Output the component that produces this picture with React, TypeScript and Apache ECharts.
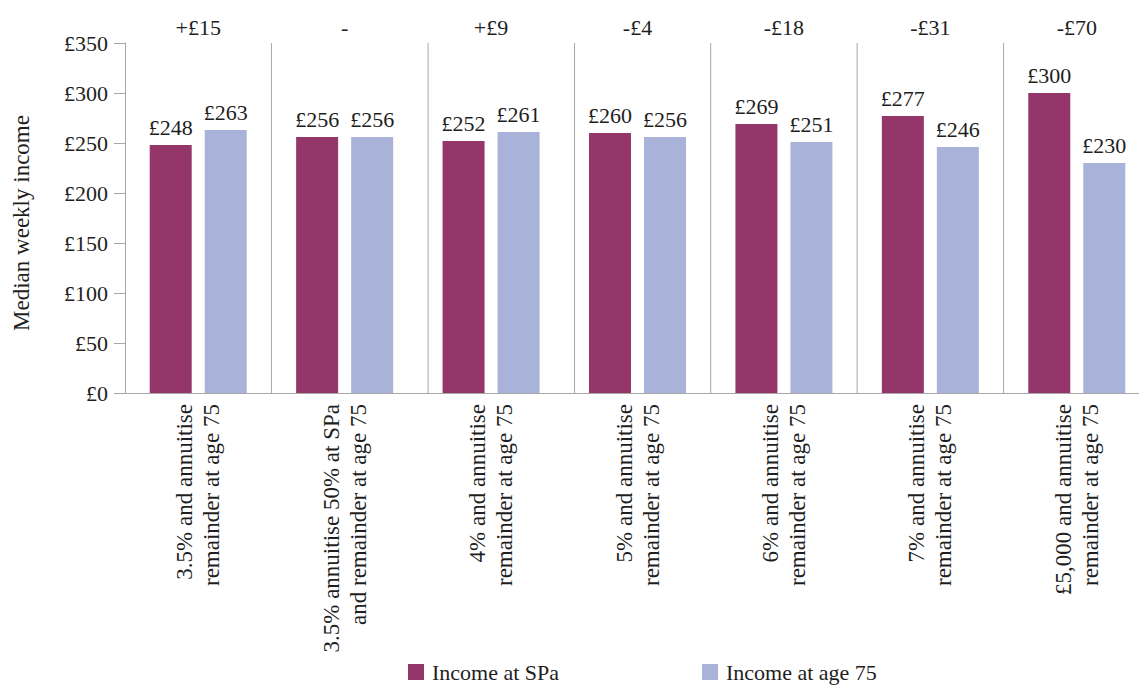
import React, { useEffect, useRef } from "react";
import * as echarts from "echarts";

// Drawdown strategies compared on the x axis
const strategies: string[] = [
  "3.5% and annuitise\nremainder at age 75",
  "3.5% annuitise 50% at SPa\nand remainder at age 75",
  "4% and annuitise\nremainder at age 75",
  "5% and annuitise\nremainder at age 75",
  "6% and annuitise\nremainder at age 75",
  "7% and annuitise\nremainder at age 75",
  "£5,000 and annuitise\nremainder at age 75",
];

// Median weekly income (£)
const incomeAtSPa: number[] = [248, 256, 252, 260, 269, 277, 300];
const incomeAtAge75: number[] = [263, 256, 261, 256, 251, 246, 230];

// Y axis range and step (£)
const yMin = 0;
const yMax = 350;
const yStep = 50;

// Vertical dividers between strategy groups, in category units from the left edge
const dividerPositions: number[] = [1, 2.07, 3.07, 4, 5, 6];

// Change from SPa to age 75, shown above each group
const changeLabels: string[] = incomeAtAge75.map((v, i) => {
  const d = v - incomeAtSPa[i];
  if (d === 0) return "-";
  return (d > 0 ? "+£" : "-£") + Math.abs(d);
});

const FONT = "'Liberation Serif', 'Times New Roman', serif";
const TEXT = "#1e1e1e";
const GREY = "#a8a8a8";
const PLUM = "#94366a";
const LAVENDER = "#a9b2d8";

export default function App() {
  const ref = useRef<HTMLDivElement>(null);

  useEffect(() => {
    if (!ref.current) return;
    const chart = echarts.init(ref.current, undefined, { renderer: "svg" });

    const barLabel = {
      show: true,
      position: "top",
      distance: 7,
      color: TEXT,
      fontFamily: FONT,
      fontSize: 22,
      formatter: (p: any) => "£" + p.value,
    };

    const legendBase = {
      top: 661,
      padding: 0,
      icon: "rect",
      itemWidth: 16,
      itemHeight: 16,
      textStyle: { fontFamily: FONT, fontSize: 22, color: TEXT, padding: [0, 0, 0, 3] },
    };

    chart.setOption({
      animation: false,
      backgroundColor: "#ffffff",
      textStyle: { fontFamily: FONT, color: TEXT },
      grid: {
        left: 125,
        right: -11,
        top: 43,
        bottom: 293,
        containLabel: false,
        outerBoundsMode: "none",
      },
      legend: [
        { ...legendBase, data: ["Income at SPa"], left: 408 },
        { ...legendBase, data: ["Income at age 75"], left: 702 },
      ],
      xAxis: [
        {
          type: "category",
          data: strategies,
          position: "bottom",
          axisLine: { show: true, lineStyle: { color: GREY, width: 1 } },
          axisTick: { show: false },
          splitLine: { show: false },
          axisLabel: {
            interval: 0,
            rotate: 90,
            margin: 11,
            fontFamily: FONT,
            fontSize: 23,
            lineHeight: 27,
            color: TEXT,
          },
        },
        {
          type: "category",
          data: changeLabels,
          position: "top",
          axisLine: { show: false },
          axisTick: { show: false },
          splitLine: { show: false },
          axisLabel: {
            interval: 0,
            margin: 5,
            fontFamily: FONT,
            fontSize: 22,
            color: TEXT,
          },
        },
        {
          type: "value",
          min: 0,
          max: strategies.length,
          show: false,
          splitLine: { show: false },
        },
      ],
      yAxis: {
        type: "value",
        min: yMin,
        max: yMax,
        interval: yStep,
        name: "Median weekly income",
        nameLocation: "middle",
        nameRotate: 90,
        nameGap: 92,
        nameTextStyle: { fontFamily: FONT, fontSize: 23, color: TEXT, padding: [0, 0, 0, -10] },
        axisLine: { show: true, lineStyle: { color: GREY, width: 1 } },
        axisTick: { show: true, length: 11, lineStyle: { color: GREY, width: 1 } },
        splitLine: { show: false },
        axisLabel: {
          margin: 17,
          fontFamily: FONT,
          fontSize: 22,
          color: TEXT,
          formatter: (v: number) => "£" + v,
        },
      },
      series: [
        {
          name: "Income at SPa",
          type: "bar",
          xAxisIndex: 0,
          data: incomeAtSPa,
          barWidth: 42,
          barGap: "31%",
          itemStyle: { color: PLUM },
          label: barLabel,
        },
        {
          name: "Income at age 75",
          type: "bar",
          xAxisIndex: 0,
          data: incomeAtAge75,
          barWidth: 42,
          barGap: "31%",
          itemStyle: { color: LAVENDER },
          label: barLabel,
        },
        {
          name: "dividers",
          type: "custom",
          xAxisIndex: 2,
          yAxisIndex: 0,
          silent: true,
          data: dividerPositions.map((p) => [p, yMax]),
          encode: { x: 0, y: 1 },
          renderItem: (_params: any, api: any) => {
            const top = api.coord([api.value(0), yMax]);
            const bottom = api.coord([api.value(0), yMin]);
            return {
              type: "line",
              shape: { x1: top[0], y1: top[1], x2: bottom[0], y2: bottom[1] },
              style: { stroke: GREY, lineWidth: 1 },
            };
          },
        },
      ],
    });

    return () => chart.dispose();
  }, []);

  return (
    <div
      ref={ref}
      style={{ position: "absolute", left: 0, top: 0, width: 1139, height: 686 }}
    />
  );
}
